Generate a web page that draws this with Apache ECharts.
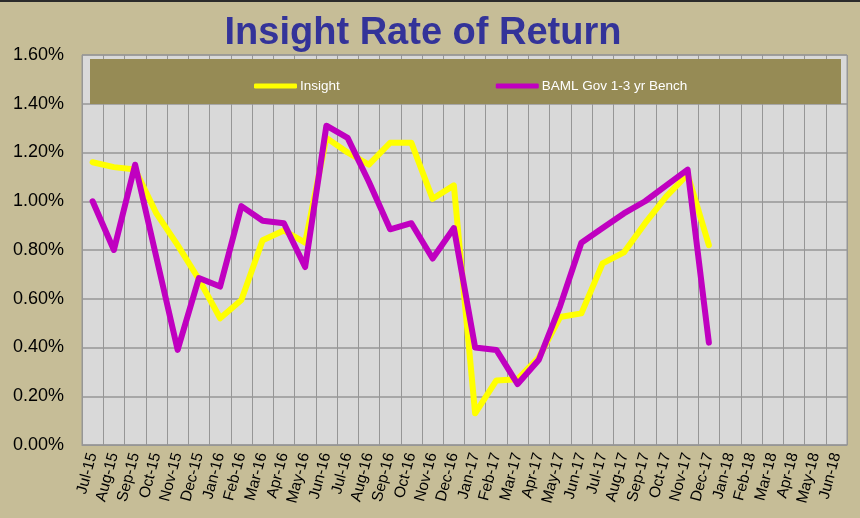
<!DOCTYPE html>
<html>
<head>
<meta charset="utf-8">
<script src="https://cdn.jsdelivr.net/npm/echarts@6/dist/echarts.min.js"></script>
<style>
html,body{margin:0;padding:0;background:#c6bd97;}
#chart{width:860px;height:518px;}
</style>
</head>
<body>
<div id="chart"></div>
<script>
// months on the x axis
var months = ['Jul-15','Aug-15','Sep-15','Oct-15','Nov-15','Dec-15','Jan-16','Feb-16','Mar-16','Apr-16','May-16','Jun-16',
	'Jul-16','Aug-16','Sep-16','Oct-16','Nov-16','Dec-16','Jan-17','Feb-17','Mar-17','Apr-17','May-17','Jun-17',
	'Jul-17','Aug-17','Sep-17','Oct-17','Nov-17','Dec-17','Jan-18','Feb-18','Mar-18','Apr-18','May-18','Jun-18'];
// monthly return, in %
var insight = [1.16,1.14,1.13,0.95,0.82,0.68,0.52,0.595,0.84,0.88,0.83,1.26,
	1.20,1.15,1.24,1.24,1.01,1.065,0.13,0.265,0.27,0.36,0.525,0.54,
	0.745,0.79,0.91,1.02,1.11,0.82];
var baml = [1.00,0.80,1.15,0.77,0.39,0.685,0.65,0.98,0.92,0.91,0.73,1.31,
	1.26,1.08,0.885,0.91,0.765,0.89,0.40,0.39,0.25,0.35,0.57,0.83,
	0.89,0.95,1.00,1.065,1.13,0.42];
var yTicks = [0,0.2,0.4,0.6,0.8,1.0,1.2,1.4,1.6];

var myChart = echarts.init(document.getElementById('chart'));
var option = {
	backgroundColor: '#c6bd97',
	animation: false,
	title: {
		text: 'Insight Rate of Return',
		left: 418,
		textAlign: 'center',
		top: 10,
		textStyle: {fontFamily: 'Liberation Sans, Arial', fontSize: 38, fontWeight: 'bold', color: '#333399'}
	},
	//legend sits on an olive band drawn by graphic
	legend: {
		left: 249,
		top: 74,
		itemGap: 156,
		itemWidth: 43,
		itemHeight: 5,
		icon: 'roundRect',
		z: 5,
		textStyle: {color: '#ffffff', fontSize: 13.5, fontFamily: 'Liberation Sans, Arial', padding: [0,0,0,-2]},
		data: ['Insight','BAML Gov 1-3 yr Bench']
	},
	graphic: [
		{type: 'rect', left: 0, top: 0, shape: {width: 860, height: 2}, style: {fill: '#2b2b2b'}, z: 10},
		{type: 'rect', left: 90, top: 59, shape: {width: 751, height: 45}, style: {fill: '#968b55'}, z: 3}
	],
	grid: {left: 82, top: 55, width: 765, height: 390, backgroundColor: '#d9d9d9', show: true, borderColor: '#969696', borderWidth: 1},
	xAxis: {
		type: 'category',
		data: months,
		boundaryGap: true,
		axisLine: {lineStyle: {color: '#969696'}},
		axisTick: {show: false},
		splitLine: {show: true, lineStyle: {color: '#969696', width: 1}},
		axisLabel: {interval: 0, rotate: 75, margin: 8, fontSize: 15.5, color: '#000', fontFamily: 'Liberation Sans, Arial'}
	},
	yAxis: {
		type: 'value',
		min: 0,
		max: 1.6,
		interval: 0.2,
		axisLine: {show: false},
		axisTick: {show: false},
		splitLine: {lineStyle: {color: '#969696', width: 1.5}},
		axisLabel: {
			margin: 18,
			fontSize: 18,
			color: '#000',
			fontFamily: 'Liberation Sans, Arial',
			formatter: function(v){ return v.toFixed(2) + '%'; }
		}
	},
	series: [
		{
			name: 'Insight',
			type: 'line',
			data: insight,
			symbol: 'none',
			z: 2,
			itemStyle: {color: '#ffff00'},
			lineStyle: {color: '#ffff00', width: 6, cap: 'round', join: 'round'}
		},
		{
			name: 'BAML Gov 1-3 yr Bench',
			type: 'line',
			data: baml,
			symbol: 'none',
			z: 3,
			itemStyle: {color: '#c000c0'},
			lineStyle: {color: '#c000c0', width: 6, cap: 'round', join: 'round'}
		}
	]
};
myChart.setOption(option);
</script>
</body>
</html>
